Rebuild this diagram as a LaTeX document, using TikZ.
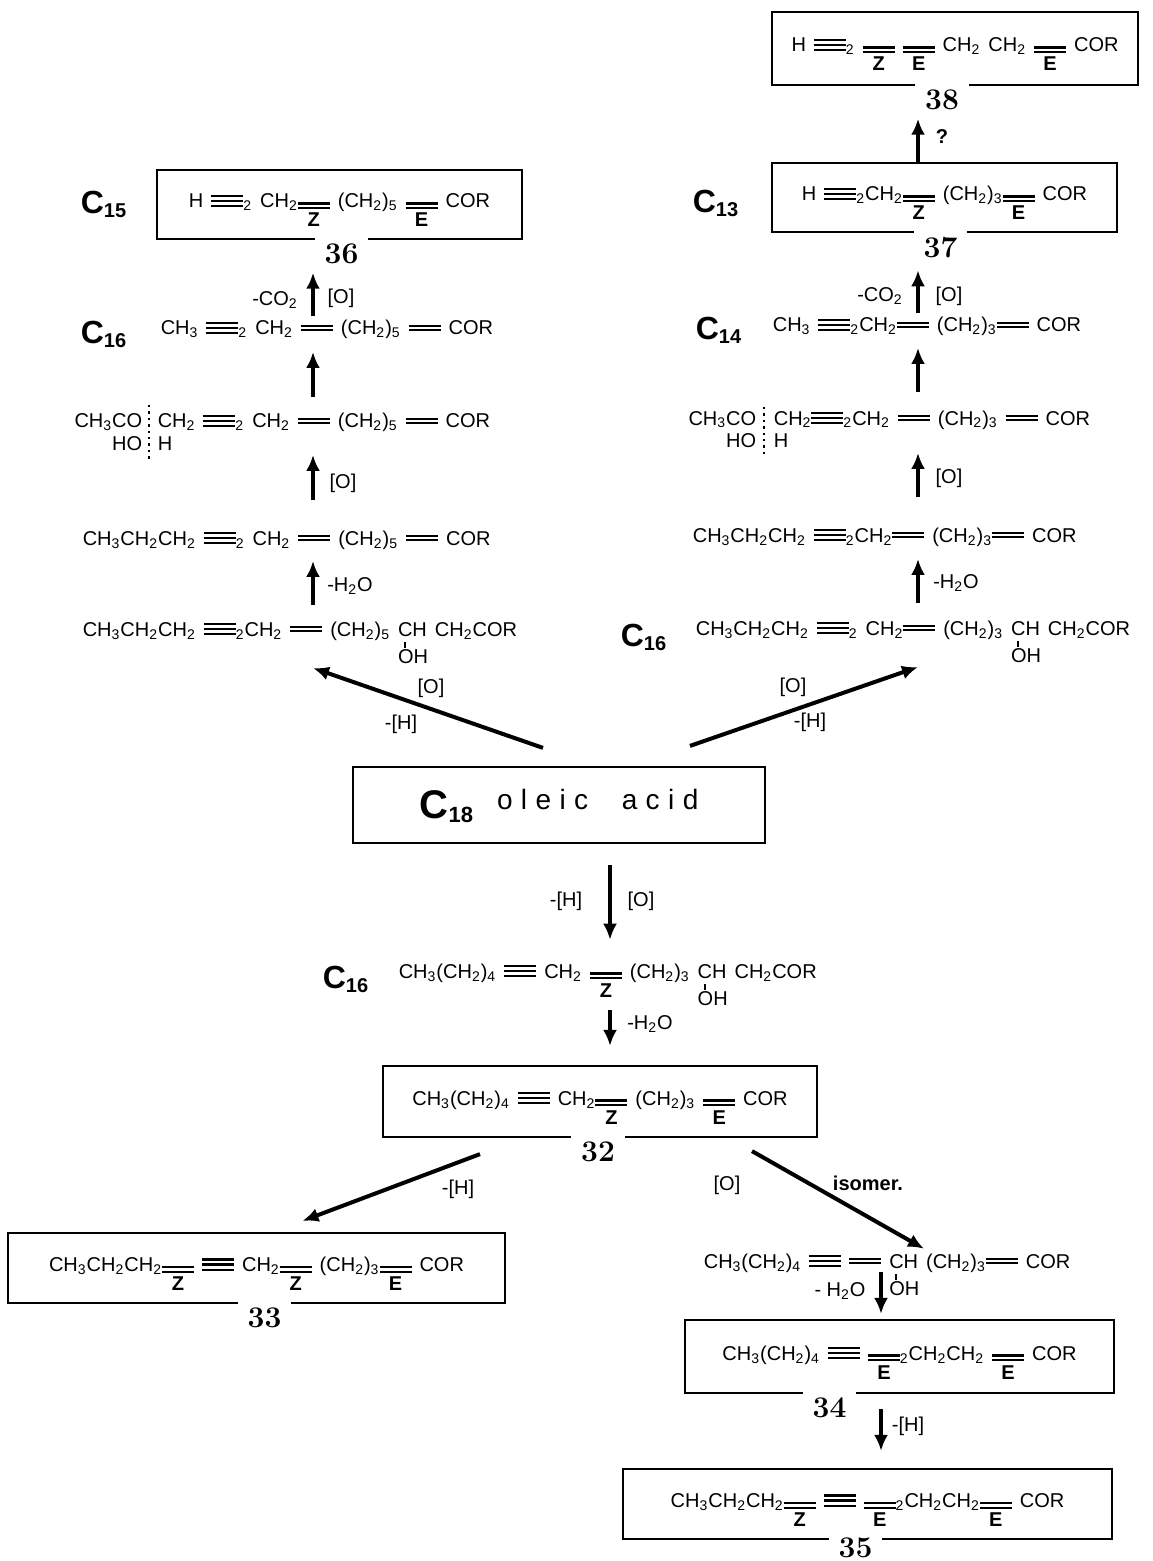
\documentclass[tikz,border=0pt]{standalone}
\usepackage{fontspec}
\setsansfont{Liberation Sans}
\usetikzlibrary{positioning,arrows.meta}
\newcommand{\chs}[1]{\textsubscript{#1}}
\newcommand{\tribond}{\rule[0.3pt]{1.6em}{1.2pt}\llap{\rule[2.9pt]{1.6em}{1.2pt}}\llap{\rule[5.5pt]{1.6em}{1.2pt}}}
\newcommand{\dibond}{\rule[1.8pt]{1.6em}{1.1pt}\llap{\rule[4.1pt]{1.6em}{1.1pt}}}
\newcommand{\zebond}[1]{\rule[-0.6pt]{1.6em}{1.1pt}\llap{\rule[1.7pt]{1.6em}{1.1pt}}\llap{\makebox[1.6em]{\raisebox{-9.5pt}{\bfseries #1}}}}
\newcommand{\choh}{\rlap{\hspace{0.3em}\rule[-6pt]{0.9pt}{3pt}}\rlap{\raisebox{-13.5pt}{OH}}CH}
\newcommand{\ccount}[1]{C\raisebox{-2pt}{\fontsize{10}{12}\selectfont #1}}
\newcommand{\lsp}{\kern0.3em}
\tikzstyle{chem}=[font={\sffamily\fontsize{10}{12}\selectfont\spaceskip=0.4em}, inner sep=2pt]
\tikzstyle{cbox}=[chem, draw, line width=1.1pt, text height=14pt, text depth=10.5pt]
\tikzstyle{cnum}=[fill=white, font={\rmfamily\bfseries\fontsize{15}{16}\selectfont}, inner xsep=5pt, inner ysep=4pt]
\tikzstyle{clab}=[font={\sffamily\bfseries\fontsize{16}{18}\selectfont}, inner sep=0pt, anchor=base west]
\tikzstyle{cond}=[font={\sffamily\fontsize{10}{12}\selectfont}, inner sep=1pt]
\tikzstyle{rxn}=[-{Latex[length=8pt,width=7pt]}, line width=2pt]
\begin{document}
\begin{tikzpicture}[x=0.5pt, y=-0.5pt, thick]
\useasboundingbox (0,0) rectangle (1152,1561);
% columns of the vertical arrows
\coordinate (colL) at (313,0);
\coordinate (colR) at (918,0);
\coordinate (colM) at (610,0);
\coordinate (colB) at (881,0);
\coordinate (colI) at (924,0);

% boxed products
\node[cbox, minimum width=183pt, minimum height=36.5pt] (b38) at (955,48.5) {H \tribond\chs{2} \zebond{Z} \zebond{E} CH\chs{2} CH\chs{2} \zebond{E} COR};
\node[cnum, below=-2.5pt of b38.south, xshift=-6.5pt] (n38) {38};
\node[cbox, minimum width=172.5pt, minimum height=34.5pt] (b37) at (944.5,197.5) {H \tribond\chs{2}CH\chs{2}\zebond{Z} (CH\chs{2})\chs{3}\zebond{E} COR};
\node[cnum, below=-2.5pt of b37.south, xshift=-2pt] (n37) {37};
\node[cbox, minimum width=182.5pt, minimum height=34.5pt] (b36) at (339.5,204.5) {H \tribond\chs{2} CH\chs{2}\zebond{Z} (CH\chs{2})\chs{5} \zebond{E} COR};
\node[cnum, below=-2.5pt of b36.south, xshift=1pt] (n36) {36};
\node[cbox, minimum width=206pt, minimum height=38pt, text height=16pt, text depth=3pt] (ole) at (559,805) {{\fontsize{20}{22}\selectfont\bfseries C\raisebox{-2pt}{\fontsize{11}{12}\selectfont 18}}\hspace{12pt}\raisebox{4.5pt}{\fontsize{14}{16}\selectfont o\lsp l\lsp e\lsp i\lsp c\hspace{1.2em}a\lsp c\lsp i\lsp d}};
\node[cbox, minimum width=217pt, minimum height=35.5pt] (b32) at (600,1101.5) {CH\chs{3}(CH\chs{2})\chs{4} \tribond{} CH\chs{2}\zebond{Z} (CH\chs{2})\chs{3} \zebond{E} COR};
\node[cnum, below=-2.5pt of b32.south, xshift=-1pt] (n32) {32};
\node[cbox, minimum width=248.5pt, minimum height=35pt] (b33) at (256.5,1268) {CH\chs{3}CH\chs{2}CH\chs{2}\zebond{Z} \tribond{} CH\chs{2}\zebond{Z} (CH\chs{2})\chs{3}\zebond{E} COR};
\node[cnum, below=-2.5pt of b33.south, xshift=4pt] (n33) {33};
\node[cbox, minimum width=214.5pt, minimum height=36.5pt] (b34) at (899.5,1356.5) {CH\chs{3}(CH\chs{2})\chs{4} \tribond{} \zebond{E}\chs{2}CH\chs{2}CH\chs{2} \zebond{E} COR};
\node[cnum, below=-2.5pt of b34.south, xshift=-35pt] (n34) {34};
\node[cbox, minimum width=244.5pt, minimum height=35pt] (b35) at (867.5,1504) {CH\chs{3}CH\chs{2}CH\chs{2}\zebond{Z} \tribond{} \zebond{E}\chs{2}CH\chs{2}CH\chs{2}\zebond{E} COR};
\node[cnum, below=-4.5pt of b35.south, xshift=-6pt, inner ysep=3pt] (n35) {35};

% left branch
\node[chem, anchor=base west] (r2L) at (156,335) {CH\chs{3} \tribond\chs{2} CH\chs{2} \dibond{} (CH\chs{2})\chs{5} \dibond{} COR};
\node[chem, anchor=base east] (r3La) at (147,428) {CH\chs{3}CO};
\node[chem, anchor=base east] (r3Lb) at (147,451) {HO};
\node[chem, anchor=base west] (r3L) at (153,428) {CH\chs{2} \tribond\chs{2} CH\chs{2} \dibond{} (CH\chs{2})\chs{5} \dibond{} COR};
\node[chem, anchor=base west] (r3Lc) at (153,451) {H};
\node[chem, anchor=base west] (r4L) at (78,545) {CH\chs{3}CH\chs{2}CH\chs{2} \tribond\chs{2} CH\chs{2} \dibond{} (CH\chs{2})\chs{5} \dibond{} COR};
\node[chem, anchor=base west] (r5L) at (78,636) {CH\chs{3}CH\chs{2}CH\chs{2} \tribond\chs{2}CH\chs{2} \dibond{} (CH\chs{2})\chs{5} \choh{} CH\chs{2}COR};
\draw[dotted, line width=1.2pt] (149,405) -- (149,460);

% right branch
\node[chem, anchor=base west] (r2R) at (768,332) {CH\chs{3} \tribond\chs{2}CH\chs{2}\dibond{} (CH\chs{2})\chs{3}\dibond{} COR};
\node[chem, anchor=base east] (r3Ra) at (761,425) {CH\chs{3}CO};
\node[chem, anchor=base east] (r3Rb) at (761,447) {HO};
\node[chem, anchor=base west] (r3R) at (769,425) {CH\chs{2}\tribond\chs{2}CH\chs{2} \dibond{} (CH\chs{2})\chs{3} \dibond{} COR};
\node[chem, anchor=base west] (r3Rc) at (769,447) {H};
\node[chem, anchor=base west] (r4R) at (688,542) {CH\chs{3}CH\chs{2}CH\chs{2} \tribond\chs{2}CH\chs{2}\dibond{} (CH\chs{2})\chs{3}\dibond{} COR};
\node[chem, anchor=base west] (r5R) at (691,635) {CH\chs{3}CH\chs{2}CH\chs{2} \tribond\chs{2} CH\chs{2}\dibond{} (CH\chs{2})\chs{3} \choh{} CH\chs{2}COR};
\draw[dotted, line width=1.2pt] (764,407) -- (764,455);

% middle
\node[chem, anchor=base west] (r6) at (394,978) {CH\chs{3}(CH\chs{2})\chs{4} \tribond{} CH\chs{2} \zebond{Z} (CH\chs{2})\chs{3} \choh{} CH\chs{2}COR};
\node[chem, anchor=base west] (r7) at (699,1268) {CH\chs{3}(CH\chs{2})\chs{4} \tribond{} \dibond{} \choh{} (CH\chs{2})\chs{3}\dibond{} COR};

% chain lengths
\node[clab] (c15) at (80,214) {\ccount{15}};
\node[clab] (c16a) at (80,344) {\ccount{16}};
\node[clab] (c13) at (692,213) {\ccount{13}};
\node[clab] (c14) at (695,340) {\ccount{14}};
\node[clab] (c16b) at (620,646) {\ccount{16}};
\node[clab] (c16c) at (322,988) {\ccount{16}};

% arrows
\draw[rxn] (r2L.north -| colL) -- (n36.south -| colL);
\draw[rxn, shorten <=6pt, shorten >=4pt] (r3L.north -| colL) -- (r2L.south -| colL);
\draw[rxn, shorten <=13pt, shorten >=9pt] (r4L.north -| colL) -- (r3L.south -| colL);
\draw[rxn, shorten <=6pt, shorten >=3.5pt] (r5L.north -| colL) -- (r4L.south -| colL);
\draw[rxn] (b37.north -| colR) -- (n38.south -| colR);
\draw[rxn, shorten >=2pt] (r2R.north -| colR) -- (n37.south -| colR);
\draw[rxn, shorten <=7pt, shorten >=3.5pt] (r3R.north -| colR) -- (r2R.south -| colR);
\draw[rxn, shorten <=13pt, shorten >=9.5pt] (r4R.north -| colR) -- (r3R.south -| colR);
\draw[rxn, shorten <=6.5pt, shorten >=4pt] (r5R.north -| colR) -- (r4R.south -| colR);
\draw[rxn] ([shift={(-16,-18)}]ole.north) -- (r5L.south -| colL);
\draw[rxn] ([shift={(131,-20)}]ole.north) -- (r5R.south -| colR);
\draw[rxn, shorten <=10.5pt, shorten >=9.5pt] (ole.south -| colM) -- (r6.north -| colM);
\draw[rxn, shorten >=9.5pt] (r6.south -| colM) -- (b32.north -| colM);
\draw[rxn] ([shift={(-120,16)}]b32.south) -- ([shift={(46,-11)}]b33.north);
\draw[rxn] ([shift={(152,13)}]b32.south) -- (r7.north -| colI);
\draw[rxn, shorten <=2pt, shorten >=2.5pt] (r7.base -| colB) -- (b34.north -| colB);
\draw[rxn, shorten <=7.5pt, shorten >=8.5pt] (b34.south -| colB) -- (b35.north -| colB);

% conditions
\node[cond] (k1) at (275,300) {-CO\chs{2}};
\node[cond] (k2) at (341,298) {[O]};
\node[cond] (k3) at (343,483) {[O]};
\node[cond] (k4) at (350,586) {-H\chs{2}O};
\node[cond] (k5) at (880,296) {-CO\chs{2}};
\node[cond] (k6) at (949,296) {[O]};
\node[cond] (k7) at (949,478) {[O]};
\node[cond] (k8) at (956,583) {-H\chs{2}O};
\node[cond] (k9) at (942,137) {\bfseries ?};
\node[cond] (k10) at (431,688) {[O]};
\node[cond] (k11) at (401,724) {-[H]};
\node[cond] (k12) at (793,687) {[O]};
\node[cond] (k13) at (810,722) {-[H]};
\node[cond] (k14) at (566,901) {-[H]};
\node[cond] (k15) at (641,901) {[O]};
\node[cond] (k16) at (650,1024) {-H\chs{2}O};
\node[cond] (k17) at (458,1189) {-[H]};
\node[cond] (k18) at (727,1185) {[O]};
\node[cond] (k19) at (868,1183) {\bfseries isomer.};
\node[cond] (k20) at (840,1291) {- H\chs{2}O};
\node[cond] (k21) at (908,1426) {-[H]};
\end{tikzpicture}
\end{document}
